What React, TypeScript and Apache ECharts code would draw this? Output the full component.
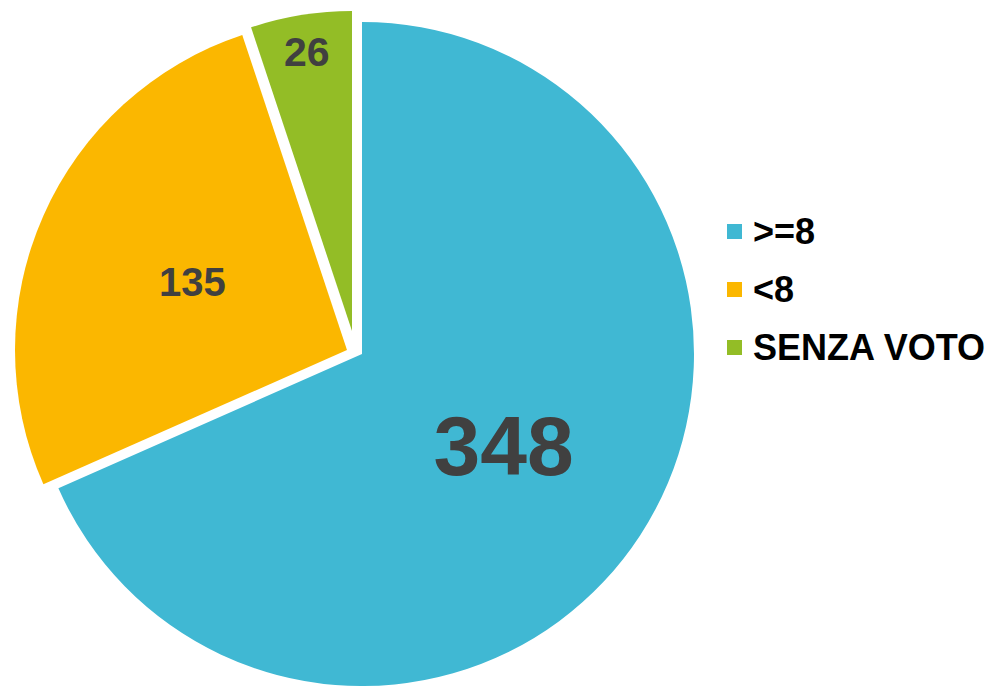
import React, { useEffect, useRef } from "react";
import * as echarts from "echarts";

const categories = [">=8", "<8", "SENZA VOTO"];
const values = [348, 135, 26];
const colors = ["#40B8D3", "#FBB700", "#93BD26"];

// per-slice geometry (exploded slices): center, radius
const sliceCenters = [
  [362, 354],
  [347, 350],
  [352, 331],
];
const sliceRadius = [332, 332, 320];
const labelSizes = [84, 40, 41];
// label ring radius for each slice (inner, outer); label sits at their midpoint
const labelRings = [
  [0, 332],
  [0, 332],
  [240, 320],
];

export default function App() {
  const ref = useRef<HTMLDivElement>(null);
  useEffect(() => {
    if (!ref.current) return;
    const chart = echarts.init(ref.current, null, { renderer: "svg" });
    const series: any[] = [];
    categories.forEach((_, i) => {
      series.push({
        type: "pie",
        center: sliceCenters[i],
        radius: sliceRadius[i],
        startAngle: 90,
        clockwise: true,
        avoidLabelOverlap: false,
        silent: true,
        emphasis: { disabled: true },
        label: { show: false },
        labelLine: { show: false },
        data: categories.map((name, j) => ({
          name,
          value: values[j],
          itemStyle: { color: j === i ? colors[j] : "rgba(0,0,0,0)", borderWidth: 0 },
        })),
      });
      series.push({
        type: "pie",
        center: sliceCenters[i],
        radius: labelRings[i],
        startAngle: 90,
        clockwise: true,
        avoidLabelOverlap: false,
        silent: true,
        emphasis: { disabled: true },
        labelLine: { show: false },
        data: categories.map((name, j) => ({
          name,
          value: values[j],
          itemStyle: { color: "rgba(0,0,0,0)", borderWidth: 0 },
          label: {
            show: j === i,
            position: "inside",
            formatter: "{c}",
            color: "#404040",
            fontFamily: "Liberation Sans, Arial, sans-serif",
            fontWeight: "bold",
            fontSize: labelSizes[j],
          },
        })),
      });
    });
    chart.setOption({
      animation: false,
      legend: {
        orient: "vertical",
        left: 722,
        top: 208,
        itemWidth: 15,
        itemHeight: 15,
        itemGap: 21,
        icon: "rect",
        selectedMode: false,
        textStyle: {
          color: "#000000",
          fontFamily: "Liberation Sans, Arial, sans-serif",
          fontWeight: "bold",
          fontSize: 36,
          lineHeight: 37,
          padding: [0, 0, 0, 6],
        },
        data: categories.map((name, j) => ({ name, itemStyle: { color: colors[j] } })),
      },
      series,
    });
    return () => chart.dispose();
  }, []);
  return (
    <div
      ref={ref}
      style={{ position: "absolute", left: 0, top: 0, width: 997, height: 686 }}
    />
  );
}
